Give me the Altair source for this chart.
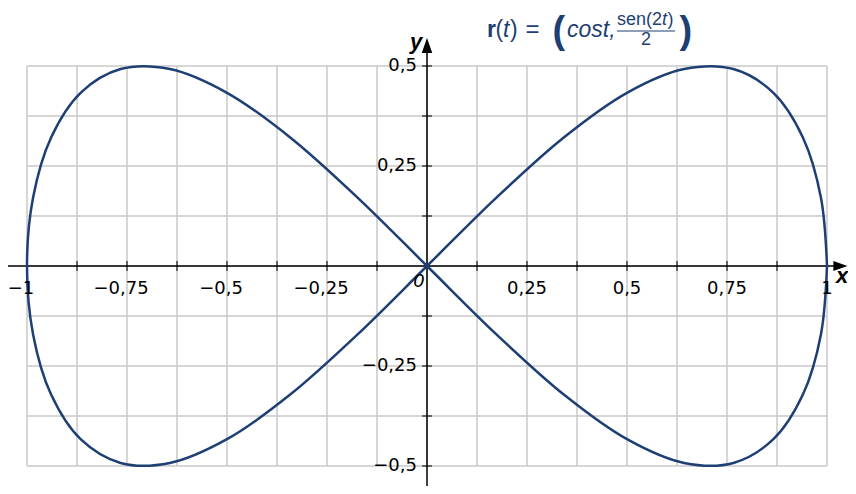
import altair as alt
import pandas as pd

# Curve points (ordered along the curve)
curve_t = list(range(0, 361, 10))
curve_x = [1.0, 0.9848, 0.9397, 0.8660, 0.7660, 0.6428, 0.5, 0.3420, 0.1736, 0.0,
           -0.1736, -0.3420, -0.5, -0.6428, -0.7660, -0.8660, -0.9397, -0.9848, -1.0,
           -0.9848, -0.9397, -0.8660, -0.7660, -0.6428, -0.5, -0.3420, -0.1736, 0.0,
           0.1736, 0.3420, 0.5, 0.6428, 0.7660, 0.8660, 0.9397, 0.9848, 1.0]
curve_y = [0.0, 0.1710, 0.3214, 0.4330, 0.4924, 0.4924, 0.4330, 0.3214, 0.1710, 0.0,
           -0.1710, -0.3214, -0.4330, -0.4924, -0.4924, -0.4330, -0.3214, -0.1710, 0.0,
           0.1710, 0.3214, 0.4330, 0.4924, 0.4924, 0.4330, 0.3214, 0.1710, 0.0,
           -0.1710, -0.3214, -0.4330, -0.4924, -0.4924, -0.4330, -0.3214, -0.1710, 0.0]

grid_x = [-1 + 0.125 * i for i in range(17)]
grid_y = [-0.5 + 0.125 * i for i in range(9)]
tick_x = [v for v in grid_x if abs(v) > 1e-9]
tick_y = [v for v in grid_y if abs(v) > 1e-9]

xlab_vals = [-1, -0.75, -0.5, -0.25, 0.25, 0.5, 0.75, 1]
xlab_text = ["\u22121", "\u22120,75", "\u22120,5", "\u22120,25", "0,25", "0,5", "0,75", "1"]
ylab_vals = [0.5, 0.25, -0.25, -0.5]
ylab_text = ["0,5", "0,25", "\u22120,25", "\u22120,5"]

NAVY = "#1d3f73"
X0, Y0 = 27, 66  # page position of plot origin

xs = alt.Scale(domain=[-1, 1], nice=False, zero=False)
ys = alt.Scale(domain=[-0.5, 0.5], nice=False, zero=False)


def X(f):
    return alt.X(f, type="quantitative", scale=xs, axis=None)


def Y(f):
    return alt.Y(f, type="quantitative", scale=ys, axis=None)


curve = pd.DataFrame({"t": curve_t, "x": curve_x, "y": curve_y})

gx = alt.Chart(pd.DataFrame({"x": grid_x, "y": [-0.5] * len(grid_x), "y2": [0.5] * len(grid_x)})).mark_rule(
    color="#c8c8c8", strokeWidth=1.5).encode(x=X("x"), y=Y("y"), y2="y2")
gy = alt.Chart(pd.DataFrame({"y": grid_y, "x": [-1] * len(grid_y), "x2": [1] * len(grid_y)})).mark_rule(
    color="#c8c8c8", strokeWidth=1.5).encode(y=Y("y"), x=X("x"), x2="x2")

xaxis = alt.Chart(pd.DataFrame({"x": [-1.08], "x2": [1.03], "y": [0]})).mark_rule(
    color="black", strokeWidth=1.5).encode(x=X("x"), x2="x2", y=Y("y"))
yaxis = alt.Chart(pd.DataFrame({"y": [-0.6], "y2": [0.545], "x": [0]})).mark_rule(
    color="black", strokeWidth=1.5).encode(y=Y("y"), y2="y2", x=X("x"))

xarrow = alt.Chart(pd.DataFrame({"x": [1.0335], "y": [0]})).mark_point(
    shape="M1,0L-1,-0.7L-1,0.7Z", filled=True, color="black", opacity=1, size=196).encode(
    x=X("x"), y=Y("y"))
yarrow = alt.Chart(pd.DataFrame({"x": [0], "y": [0.55125]})).mark_point(
    shape="M0,-1L-0.7,1L0.7,1Z", filled=True, color="black", opacity=1, size=225).encode(
    x=X("x"), y=Y("y"))

xticks = alt.Chart(pd.DataFrame({"x": tick_x, "y": [0] * len(tick_x)})).mark_tick(
    orient="vertical", size=10, thickness=1.5, color="black").encode(x=X("x"), y=Y("y"))
yticks = alt.Chart(pd.DataFrame({"y": tick_y, "x": [0] * len(tick_y)})).mark_tick(
    orient="horizontal", size=10, thickness=1.5, color="black").encode(y=Y("y"), x=X("x"))

line = alt.Chart(curve).mark_line(color=NAVY, strokeWidth=2.5, interpolate="catmull-rom").encode(
    x=X("x"), y=Y("y"), order=alt.Order("t", type="quantitative"))

neg_v = [v for v in xlab_vals if v < 0]
neg_t = [t for v, t in zip(xlab_vals, xlab_text) if v < 0]
pos_v = [v for v in xlab_vals if v > 0]
pos_t = [t for v, t in zip(xlab_vals, xlab_text) if v > 0]

xlabels_neg = alt.Chart(pd.DataFrame({"x": neg_v, "y": [0] * len(neg_v), "txt": neg_t})).mark_text(
    font="DejaVu Sans", fontSize=18, baseline="middle", align="center", dy=23, dx=-6, color="black").encode(
    x=X("x"), y=Y("y"), text=alt.Text("txt", type="nominal"))
xlabels_pos = alt.Chart(pd.DataFrame({"x": pos_v, "y": [0] * len(pos_v), "txt": pos_t})).mark_text(
    font="DejaVu Sans", fontSize=18, baseline="middle", align="center", dy=23, color="black").encode(
    x=X("x"), y=Y("y"), text=alt.Text("txt", type="nominal"))
ylabels = alt.Chart(pd.DataFrame({"y": ylab_vals, "x": [0] * len(ylab_vals), "txt": ylab_text})).mark_text(
    font="DejaVu Sans", fontSize=18, baseline="middle", align="right", dx=-10, color="black").encode(
    y=Y("y"), x=X("x"), text=alt.Text("txt", type="nominal"))
zero = alt.Chart(pd.DataFrame({"x": [0], "y": [0], "txt": ["0"]})).mark_text(
    font="DejaVu Sans", fontSize=18, fontStyle="italic", baseline="middle", align="center", dx=-8, dy=16,
    color="black").encode(x=X("x"), y=Y("y"), text=alt.Text("txt", type="nominal"))


def txt(s, px, py, size, style="normal", weight="normal", color=NAVY, align="left",
        font="Liberation Sans"):
    return alt.Chart(pd.DataFrame({"txt": [s]})).mark_text(
        font=font, fontSize=size, fontStyle=style, fontWeight=weight, color=color,
        align=align, baseline="alphabetic").encode(
        x=alt.value(px - X0), y=alt.value(py - Y0), text=alt.Text("txt", type="nominal"))


title = [
    txt("r", 487, 37, 23, weight="bold"),
    txt("(", 495.5, 37, 23),
    txt("t", 503, 37, 23, style="italic"),
    txt(")", 510, 37, 23),
    txt("=", 532.5, 37, 24, align="center"),
    txt("(", 552.5, 43, 38, weight="bold"),
    txt("cost,", 567, 37, 23, style="italic"),
    txt("sen(2", 617, 25, 18),
    txt("t", 662, 25, 18, style="italic"),
    txt(")", 667.5, 25, 18),
    txt("2", 646, 45, 18, align="center"),
    txt(")", 679.5, 43, 38, weight="bold"),
    txt("y", 410, 49, 22, style="italic", weight="bold", color="black"),
    txt("x", 836, 283, 22, style="italic", weight="bold", color="black"),
]
fracbar = alt.Chart(pd.DataFrame({"a": [0]})).mark_rule(color=NAVY, strokeWidth=1).encode(
    x=alt.value(617 - X0), x2=alt.value(675 - X0), y=alt.value(31 - Y0))

chart = alt.layer(
    gx, gy, xaxis, yaxis, xarrow, yarrow, xticks, yticks, line,
    xlabels_neg, xlabels_pos, ylabels, zero, fracbar, *title
).properties(
    width=800, height=400,
    autosize=alt.AutoSizeParams(type="none"),
    padding={"left": 19, "top": 58, "right": 21, "bottom": 20},
).configure_view(stroke=None)

chart.save("out.html", embed_options={"renderer": "svg", "actions": False})
